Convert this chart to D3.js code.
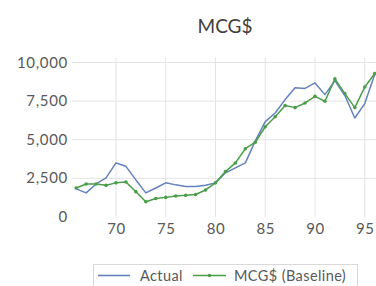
<!DOCTYPE html>
<html>
<head>
<meta charset="utf-8">
<script src="https://cdn.jsdelivr.net/npm/d3@7"></script>
<style>
html,body{margin:0;padding:0;background:#fff;}
svg{display:block;}
text{font-family:Lato,"Liberation Sans",sans-serif;}
</style>
</head>
<body>
<svg id="chart" width="376" height="286"></svg>
<script>
const years = [66,67,68,69,70,71,72,73,74,75,76,77,78,79,80,81,82,83,84,85,86,87,88,89,90,91,92,93,94,95,96];
const actual = [1820,1560,2140,2530,3500,3280,2400,1560,1880,2210,2080,1970,1970,2050,2210,2860,3180,3500,4930,6170,6730,7600,8360,8320,8680,7920,8830,7860,6410,7340,9220];
const baseline = [1880,2140,2140,2050,2210,2270,1640,990,1200,1270,1360,1400,1460,1750,2210,2940,3500,4420,4840,5840,6490,7210,7080,7380,7810,7490,8940,7990,7080,8410,9290];
const yTicks = [0,2500,5000,7500,10000];
const xTicks = [70,75,80,85,90,95];
const seriesNames = ["Actual","MCG$ (Baseline)"];
const colors = ["#6482bd","#4a9e4a"];

const svg = d3.select("#chart");
const W = 376;
const pLeft = 72.2, pRight = 376.7, pTop = 62.5, pBottom = 217;

const x = d3.scaleLinear().domain([65.6,96.2]).range([pLeft,pRight]);
const y = d3.scaleLinear().domain([0,10000]).range([pBottom,pTop]);

// title
svg.append("text").attr("x",225).attr("y",33).attr("text-anchor","middle")
  .attr("font-size",19).attr("fill","#404040").text("MCG$");

// gridlines
const grid = svg.append("g");
grid.selectAll(".hg").data(yTicks.filter(d=>d>0)).join("line")
  .attr("x1",pLeft).attr("x2",W).attr("y1",d=>y(d)).attr("y2",d=>y(d))
  .attr("stroke","#e4e4e4").attr("stroke-width",1);
grid.selectAll(".vg").data(xTicks).join("line")
  .attr("x1",d=>x(d)).attr("x2",d=>x(d)).attr("y1",pTop-5).attr("y2",pBottom)
  .attr("stroke","#e4e4e4").attr("stroke-width",1);

// y axis
const yAxis = d3.axisLeft(y).tickValues(yTicks).tickSize(0).tickPadding(0)
  .tickFormat(d3.format(","));
const ya = svg.append("g").attr("transform",`translate(68,0)`).call(yAxis);
ya.select(".domain").remove();
ya.selectAll("text").attr("font-size",15).attr("fill","#595959")
  .attr("letter-spacing","0.7px")
  .attr("font-family","Lato,sans-serif").attr("dy","0.3em");

// x axis
const xAxis = d3.axisBottom(x).tickValues(xTicks).tickSize(0).tickPadding(0);
const xa = svg.append("g").attr("transform",`translate(0,${pBottom+6})`).call(xAxis);
xa.select(".domain").remove();
xa.selectAll("text").attr("font-size",15).attr("fill","#595959")
  .attr("letter-spacing","0.5px")
  .attr("font-family","Lato,sans-serif").attr("dy","0.75em");

// clip
svg.append("clipPath").attr("id","clip").append("rect")
  .attr("x",pLeft).attr("y",0).attr("width",W-pLeft).attr("height",286);

const plot = svg.append("g").attr("clip-path","url(#clip)");
const line = d3.line().x((d,i)=>x(years[i])).y(d=>y(d));

plot.append("path").datum(actual).attr("d",line).attr("fill","none")
  .attr("stroke",colors[0]).attr("stroke-width",1.5).attr("stroke-linejoin","round");
plot.append("path").datum(baseline).attr("d",line).attr("fill","none")
  .attr("stroke",colors[1]).attr("stroke-width",1.5).attr("stroke-linejoin","round");
plot.selectAll(".m").data(baseline).join("circle")
  .attr("cx",(d,i)=>x(years[i])).attr("cy",d=>y(d)).attr("r",1.8)
  .attr("fill",colors[1]);

// legend
const lg = svg.append("g");
lg.append("rect").attr("x",93.5).attr("y",264.5).attr("width",264).attr("height",30)
  .attr("fill","#fff").attr("stroke","#d9d9d9");
lg.append("line").attr("x1",98).attr("x2",130).attr("y1",275.5).attr("y2",275.5)
  .attr("stroke",colors[0]).attr("stroke-width",1.6);
lg.append("text").attr("x",140).attr("y",280.5).attr("font-size",14.5)
  .attr("letter-spacing","0.4px").attr("fill","#595959").text(seriesNames[0]);
lg.append("line").attr("x1",193).attr("x2",226).attr("y1",275.5).attr("y2",275.5)
  .attr("stroke",colors[1]).attr("stroke-width",1.6);
lg.append("circle").attr("cx",209.5).attr("cy",275.5).attr("r",1.8).attr("fill",colors[1]);
lg.append("text").attr("x",234).attr("y",280.5).attr("font-size",14.5)
  .attr("letter-spacing","0.4px").attr("fill","#595959").text(seriesNames[1]);
</script>
</body>
</html>
